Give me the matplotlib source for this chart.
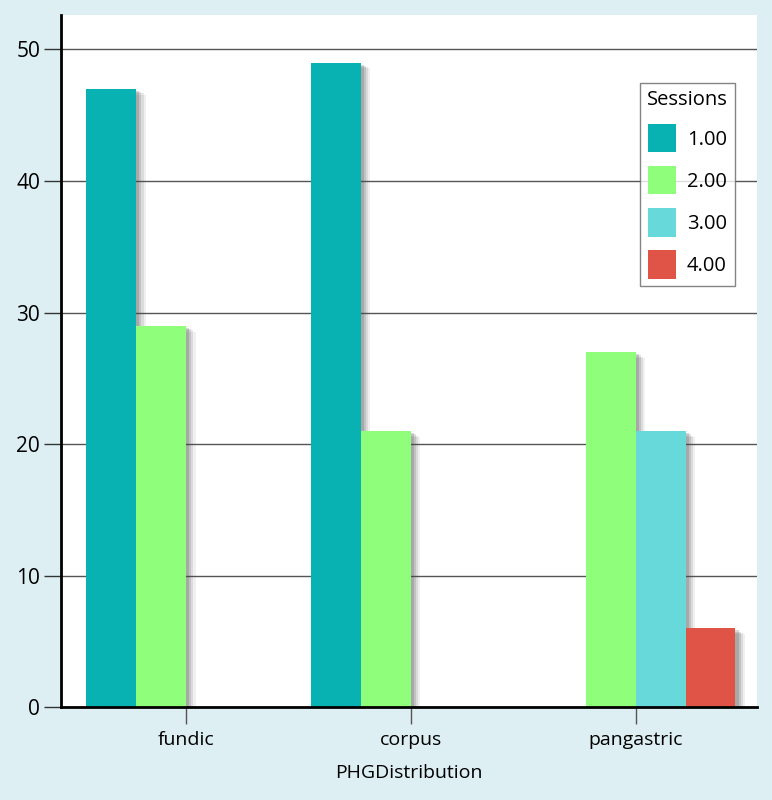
import matplotlib.pyplot as plt
import matplotlib.patheffects as pe
import numpy as np

categories = ['fundic', 'corpus', 'pangastric']
sessions = ['1.00', '2.00', '3.00', '4.00']
counts_s1 = [47, 49, 0]
counts_s2 = [29, 21, 27]
counts_s3 = [0, 0, 21]
counts_s4 = [0, 0, 6]
colors = ['#08b2b2', '#8fff7b', '#67d9da', '#e05447']

plt.rcParams['font.family'] = ['Open Sans', 'DejaVu Sans']

fig = plt.figure(figsize=(7.72, 8), dpi=100, facecolor='#ddeff3')
ax = fig.add_axes([0.079, 0.116, 0.9016, 0.865])
ax.set_facecolor('white')

x = np.arange(len(categories))
width = 0.222
# soft drop shadow, a few stacked translucent copies
shadow = [pe.SimplePatchShadow(offset=(o, -o * 0.6), shadow_rgbFace='#444444', alpha=a)
          for o, a in [(7, 0.08), (5.5, 0.12), (4, 0.16), (2.5, 0.2)]]
shadow.append(pe.Normal())

series = [counts_s1, counts_s2, counts_s3, counts_s4]
for i, vals in enumerate(series):
    vals = np.array(vals, dtype=float)
    keep = vals > 0
    off = (i - 1.5) * width
    bars = ax.bar(x[keep] + off, vals[keep], width, color=colors[i], zorder=3)
    for b in bars:
        b.set_path_effects(shadow)
    # legend proxy
    ax.bar([np.nan], [np.nan], color=colors[i], label=sessions[i])

ax.set_xlim(-0.555, 2.54)
ax.set_ylim(0, 52.6)
ax.set_yticks([0, 10, 20, 30, 40, 50])
ax.set_xticks(x)
ax.set_xticklabels(categories)
ax.yaxis.grid(True, color='#555555', linewidth=1.0, zorder=0)
ax.set_axisbelow(True)

for s in ['top', 'right']:
    ax.spines[s].set_visible(False)
ax.spines['left'].set_linewidth(2)
ax.spines['bottom'].set_linewidth(2)
ax.spines['left'].set_zorder(5)
ax.spines['bottom'].set_zorder(5)

ax.tick_params(axis='y', length=12, width=1, labelsize=15, color='#333333', pad=3)
ax.tick_params(axis='x', length=12, width=1, labelsize=14, color='#555555', pad=5)
ax.set_xlabel('PHGDistribution', fontsize=14, labelpad=11)

leg = ax.legend(title='Sessions', loc='upper right', bbox_to_anchor=(0.968, 0.902),
                borderaxespad=0, fontsize=14.5, title_fontsize=14.5, frameon=True,
                fancybox=False, edgecolor='#666666', handlelength=1.4, handleheight=1.8,
                handletextpad=0.55, labelspacing=0.68, borderpad=0.35)
leg.get_frame().set_linewidth(1)
leg.set_zorder(6)

fig.savefig('out.png', dpi=100, facecolor=fig.get_facecolor())
